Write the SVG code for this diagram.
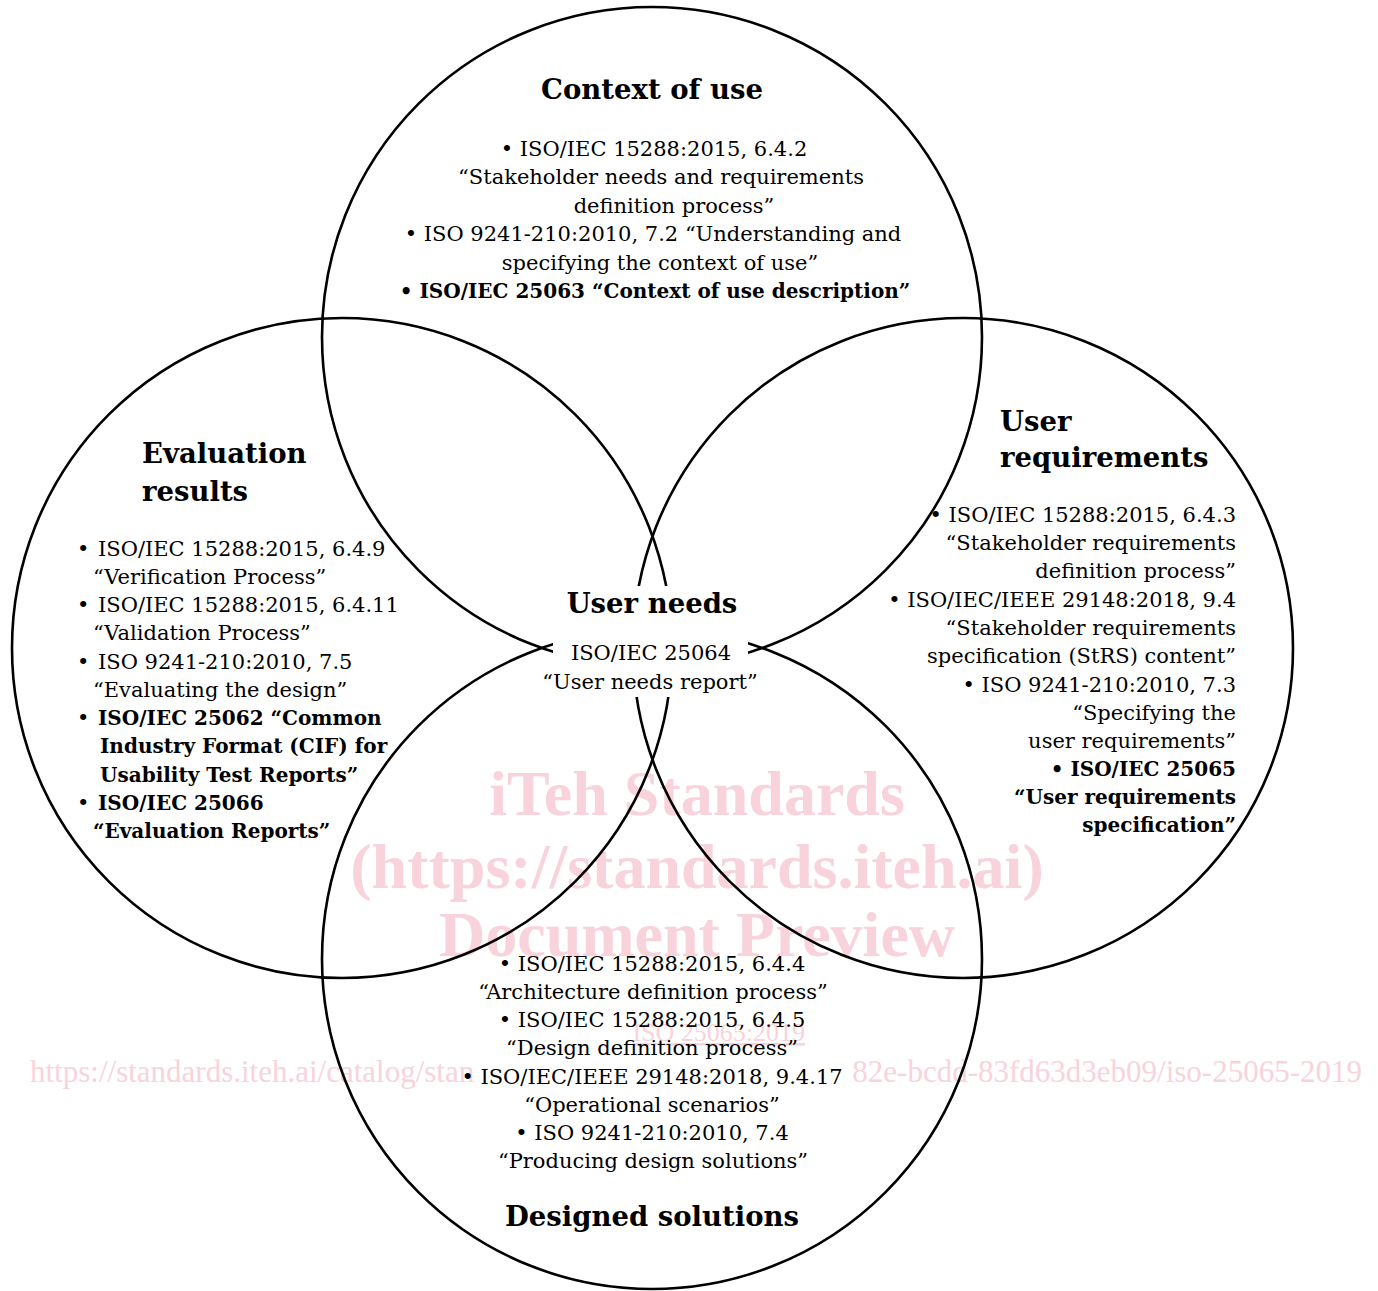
<svg xmlns="http://www.w3.org/2000/svg" width="1378" height="1291" viewBox="0 0 1378 1291">
<style>
.wm{font-family:"Liberation Serif","Times New Roman",serif;fill:#f8d3dc}
.wmb{font-weight:bold;font-size:64px;text-anchor:middle}
.c{fill:none;stroke:#000;stroke-width:2.6}
.t{font-family:"DejaVu Serif",serif;font-size:21px;fill:#000}
.b{font-family:"DejaVu Serif",serif;font-size:20px;font-weight:bold;fill:#000}
.h{font-family:"DejaVu Serif",serif;font-size:27.5px;font-weight:bold;fill:#000}
.m{text-anchor:middle}
.e{text-anchor:end}
</style>
<rect width="1378" height="1291" fill="#fff"/>
<g id="watermark">
<text class="wm wmb" x="697" y="815">iTeh Standards</text>
<text class="wm wmb" x="697" y="888">(https://standards.iteh.ai)</text>
<text class="wm wmb" x="697" y="956">Document Preview</text>
<text class="wm" x="805" y="1041" font-size="26" text-anchor="end" text-decoration="underline">ISO 25065:2019</text>
<text class="wm" x="30" y="1082" font-size="31">https://standards.iteh.ai/catalog/stan</text>
<text class="wm" x="1362" y="1082" font-size="31" text-anchor="end">82e-bcdd-83fd63d3eb09/iso-25065-2019</text>
</g>
<g id="circles">
<circle class="c" cx="652" cy="337" r="330"/>
<circle class="c" cx="342" cy="648" r="330"/>
<circle class="c" cx="963" cy="648" r="330"/>
<circle class="c" cx="652" cy="959" r="330"/>
</g>
<g id="context-of-use">
<text class="h m" x="652" y="99">Context of use</text>
<text class="t m" x="654" y="156">• ISO/IEC 15288:2015, 6.4.2</text>
<text class="t m" x="661" y="184">“Stakeholder needs and requirements</text>
<text class="t m" x="674" y="213">definition process”</text>
<text class="t m" x="653" y="241">• ISO 9241-210:2010, 7.2 “Understanding and</text>
<text class="t m" x="660" y="270">specifying the context of use”</text>
<text class="b m" x="655" y="298">• ISO/IEC 25063 “Context of use description”</text>
</g>
<g id="evaluation-results">
<text class="h" x="142" y="463">Evaluation</text>
<text class="h" x="142" y="501">results</text>
<text class="t" x="77" y="556">•</text><text class="t" x="98" y="556">ISO/IEC 15288:2015, 6.4.9</text>
<text class="t" x="93" y="584">“Verification Process”</text>
<text class="t" x="77" y="612">•</text><text class="t" x="98" y="612">ISO/IEC 15288:2015, 6.4.11</text>
<text class="t" x="93" y="640">“Validation Process”</text>
<text class="t" x="77" y="669">•</text><text class="t" x="98" y="669">ISO 9241-210:2010, 7.5</text>
<text class="t" x="93" y="697">“Evaluating the design”</text>
<text class="t" x="77" y="725">•</text><text class="b" x="98" y="725">ISO/IEC 25062 “Common</text>
<text class="b" x="100" y="753">Industry Format (CIF) for</text>
<text class="b" x="100" y="782">Usability Test Reports”</text>
<text class="t" x="77" y="810">•</text><text class="b" x="98" y="810">ISO/IEC 25066</text>
<text class="b" x="93" y="838">“Evaluation Reports”</text>
</g>
<g id="user-requirements">
<text class="h" x="1000" y="431">User</text>
<text class="h" x="1000" y="467">requirements</text>
<text class="t e" x="1236" y="522">• ISO/IEC 15288:2015, 6.4.3</text>
<text class="t e" x="1236" y="550">“Stakeholder requirements</text>
<text class="t e" x="1236" y="578">definition process”</text>
<text class="t e" x="1236" y="607">• ISO/IEC/IEEE 29148:2018, 9.4</text>
<text class="t e" x="1236" y="635">“Stakeholder requirements</text>
<text class="t e" x="1236" y="663">specification (StRS) content”</text>
<text class="t e" x="1236" y="692">• ISO 9241-210:2010, 7.3</text>
<text class="t e" x="1236" y="720">“Specifying the</text>
<text class="t e" x="1236" y="748">user requirements”</text>
<text class="b e" x="1236" y="776">• ISO/IEC 25065</text>
<text class="b e" x="1236" y="804">“User requirements</text>
<text class="b e" x="1236" y="832">specification”</text>
</g>
<g id="user-needs">
<rect x="553" y="586" width="195" height="111" fill="#fff"/>
<text class="h m" x="652" y="613">User needs</text>
<text class="t m" x="651" y="660">ISO/IEC 25064</text>
<text class="t m" x="650" y="689">“User needs report”</text>
</g>
<g id="designed-solutions">
<text class="t m" x="652" y="971">• ISO/IEC 15288:2015, 6.4.4</text>
<text class="t m" x="653" y="999">“Architecture definition process”</text>
<text class="t m" x="652" y="1027">• ISO/IEC 15288:2015, 6.4.5</text>
<text class="t m" x="652" y="1055">“Design definition process”</text>
<text class="t m" x="652" y="1084">• ISO/IEC/IEEE 29148:2018, 9.4.17</text>
<text class="t m" x="652" y="1112">“Operational scenarios”</text>
<text class="t m" x="652" y="1140">• ISO 9241-210:2010, 7.4</text>
<text class="t m" x="653" y="1168">“Producing design solutions”</text>
<text class="h m" x="652" y="1226">Designed solutions</text>
</g>
</svg>
